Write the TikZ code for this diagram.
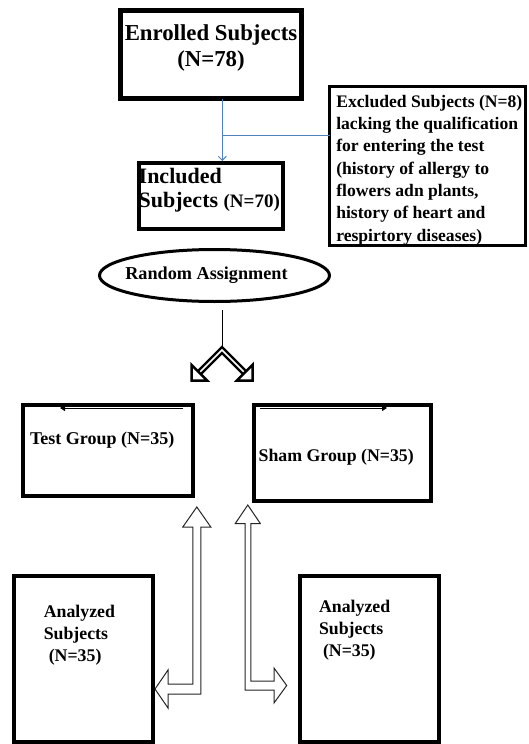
\documentclass[tikz,border=0pt]{standalone}
\usepackage{fontspec}
\setmainfont{Liberation Serif}
\usetikzlibrary{arrows.meta,calc,shapes.geometric}
\definecolor{flowblue}{RGB}{79,129,189}

\begin{document}
\begin{tikzpicture}[x=1pt,y=-1pt]
\useasboundingbox (0,0) rectangle (529,744);

\tikzset{BoxStyle/.style = {draw, line width=4pt, inner sep=0pt, outer sep=0pt, anchor=north west, font=\bfseries} }

\node[BoxStyle, line width=4.5pt] (enrolled) at (120.5,10.5)
 {\parbox[c][88pt][t]{181pt}{\centering\fontsize{22.8}{26}\selectfont
 \rule{0pt}{30pt}Enrolled Subjects\\(N=78)}};
\node[BoxStyle] (included) at (138.7,163)
 {\parbox[c][66pt][t]{144.3pt}{\raggedright\fontsize{22}{24}\selectfont
 \rule{0pt}{20.3pt}Included\\Subjects~{\fontsize{19}{24}\selectfont(N=70)}}};
\node[BoxStyle, line width=3pt] (excluded) at (329.8,86.5)
 {\parbox[c][159pt][t]{195.7pt}{\raggedright\leftskip=6.5pt\fontsize{17.6}{22.3}\selectfont
 \rule{0pt}{20.8pt}Excluded Subjects (N=8)\\lacking the qualification\\for entering the test\\(history of allergy to\\flowers adn plants,\\history of heart and\\respirtory diseases)}};

\tikzset{FlowStyle/.style = {draw=flowblue, line width=1pt} }

\coordinate (split) at (222.3,135);
\draw[FlowStyle, -{Straight Barb[length=4pt,width=8pt]}] (split |- enrolled.south) -- ($(split |- included.north)+(0,-2)$);
\draw[FlowStyle] (split) -- (split -| excluded.west);

\node[draw, ellipse, line width=3pt, minimum width=230pt, minimum height=52pt, inner ysep=0pt, inner xsep=-8pt, font=\bfseries\fontsize{18.2}{22}\selectfont] (random) at (214.5,275.5) {Random Assignment\hspace*{16pt}};

\tikzset{ForkStyle/.style = {line width=2.5pt, double=white, double distance=1.5pt, line join=miter} }
\tikzset{HeadStyle/.style = {draw, line width=2.5pt, fill=white, line join=miter} }

\coordinate (fork) at (222,350);
\coordinate (tipL) at (191.5,380.5);
\coordinate (tipR) at (252.5,380.5);
\draw[line width=0.8pt] ($(random.south -| fork)+(0,7)$) -- ($(fork)+(0,-3)$);
\draw[ForkStyle] ($(tipL)!11pt!(fork)$) -- (fork) -- ($(tipR)!11pt!(fork)$);
\draw[HeadStyle] (tipL) -- ($(tipL)!11pt!(fork)!11pt!90:(fork)$) -- ($(tipL)!11pt!(fork)!11pt!-90:(fork)$) -- cycle;
\draw[HeadStyle] (tipR) -- ($(tipR)!11pt!(fork)!11pt!90:(fork)$) -- ($(tipR)!11pt!(fork)!11pt!-90:(fork)$) -- cycle;

\node[BoxStyle] (test) at (23,405)
 {\parbox[c][91pt][t]{170pt}{\raggedright\leftskip=7pt\fontsize{18}{22}\selectfont
 \rule{0pt}{39pt}Test Group (N=35)}};
\node[BoxStyle] (sham) at (254,405)
 {\parbox[c][96pt][t]{177pt}{\raggedright\leftskip=4.6pt\fontsize{17.8}{22}\selectfont
 \rule{0pt}{56.4pt}Sham Group (N=35)}};

\tikzset{StubStyle/.style = {line width=1pt, -{Triangle[length=5pt,width=6pt]}} }

\draw[StubStyle] ($(test.north east)+(-10,3)$) -- ($(test.north west)+(37,3)$);
\draw[StubStyle] ($(sham.north west)+(6,3)$) -- ($(sham.north west)+(133,3)$);

\node[BoxStyle] (analyzedL) at (14,575.5)
 {\parbox[c][166pt][t]{139pt}{\raggedright\leftskip=29.8pt\fontsize{17.8}{22}\selectfont
 \rule{0pt}{41.5pt}Analyzed\\Subjects\\\hspace*{5pt}(N=35)}};
\node[BoxStyle] (analyzedR) at (300,576)
 {\parbox[c][166pt][t]{139pt}{\raggedright\leftskip=19pt\fontsize{17.8}{22}\selectfont
 \rule{0pt}{36pt}Analyzed\\Subjects\\\hspace*{4pt}(N=35)}};

\tikzset{HollowStyle/.style = {draw=black!85, line width=1pt, fill=white, line join=miter} }

\coordinate (upL) at (196.8,507);
\coordinate (endL) at (155,689);
\coordinate (upR) at (247.8,505);
\coordinate (endR) at (286.7,685.5);

\draw[HollowStyle] (upL) -- ++(14,20) -- ++(-10,0) -- ++(0,167) -- ++(-32.8,0) -- ++(0,14) -- (endL)
 -- ++(13,-19) -- ++(0,14) -- ++(24.8,0) -- ++(0,-157) -- ++(-10,0) -- cycle;
\draw[HollowStyle] (upR) -- ++(12.5,18.5) -- ++(-9.5,0) -- ++(0,157.5) -- ++(23.2,0) -- ++(0,-13) -- (endR)
 -- ++(-12.7,17.5) -- ++(0,-13) -- ++(-29,0) -- ++(0,-166.5) -- ++(-9.7,0) -- cycle;

\end{tikzpicture}
\end{document}
